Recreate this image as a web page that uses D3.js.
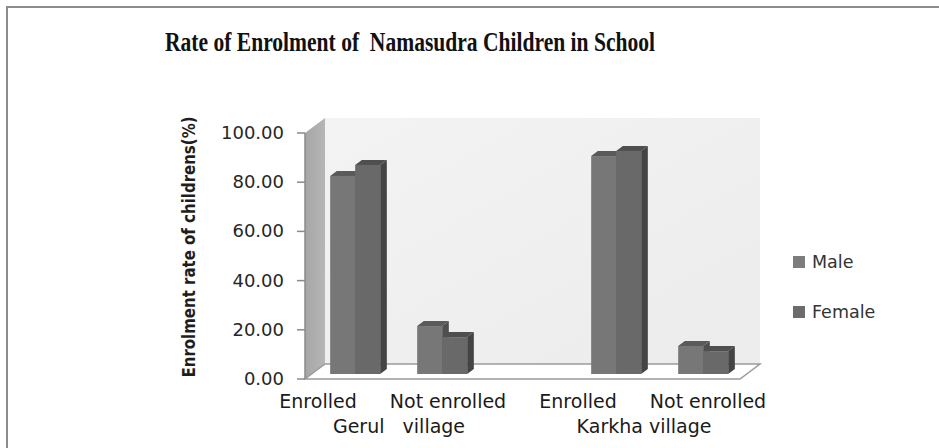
<!DOCTYPE html>
<html>
<head>
<meta charset="utf-8">
<script src="https://cdn.jsdelivr.net/npm/d3@7"></script>
<style>
  html, body { margin: 0; padding: 0; background: #fff; }
  svg { display: block; }
</style>
</head>
<body>
<svg id="chart" width="939" height="448"></svg>
<script>
// ---- data ----
const chartTitle = "Rate of Enrolment of  Namasudra Children in School";
const yAxisTitle = "Enrolment rate of childrens(%)";
const groups = ["Gerul   village", "Karkha village"];
const categories = ["Enrolled", "Not enrolled", "Enrolled", "Not enrolled"];
const categoryGroup = [0, 0, 1, 1];
const categorySlot = [0, 1, 3, 4];          // slot 2 is an empty gap between villages
const series = ["Male", "Female"];
const maleValues = [80.5, 19.5, 88.6, 11.4];
const femaleValues = [85.0, 15.0, 90.7, 9.3];
const yTicks = [0, 20, 40, 60, 80, 100];

// ---- layout ----
const svg = d3.select("#chart");
const plot = { left: 305, right: 740, top: 133, bottom: 379 };
const depth = { dx: 20, dy: -15 };
const barDepth = { start: 1 / 3, end: 2 / 3 };

const y = d3.scaleLinear().domain([0, 100]).range([plot.bottom, plot.top]);
const xSlot = d3.scaleBand().domain(d3.range(5)).range([plot.left, plot.right]).padding(0);
const xInner = d3.scaleBand().domain(series).range([0, xSlot.bandwidth()]).paddingInner(0).paddingOuter(0.74);
const labelX = d3.scalePoint().domain(d3.range(4)).range([318, 708]);

const colors = {
  Male:   { front: "#777777", top: "#5a5a5a", side: "#4e4e4e", legend: "#7d7d7d" },
  Female: { front: "#696969", top: "#4f4f4f", side: "#444444", legend: "#6c6c6c" }
};

// outer frame (right and bottom edges fall outside the picture)
svg.append("rect").attr("x", 7).attr("y", 7).attr("width", 960).attr("height", 470)
  .attr("fill", "none").attr("stroke", "#8c8c8c").attr("stroke-width", 2);

// title
svg.append("text")
  .attr("x", 410).attr("y", 51)
  .attr("text-anchor", "middle")
  .attr("font-family", "Liberation Serif, Times New Roman, serif")
  .attr("font-weight", "bold")
  .attr("font-size", 28)
  .attr("textLength", 490).attr("lengthAdjust", "spacingAndGlyphs")
  .attr("fill", "#111")
  .style("white-space", "pre")
  .text(chartTitle);

const defs = svg.append("defs");
const wallGrad = defs.append("linearGradient").attr("id", "sideWall").attr("x1", 0).attr("x2", 1).attr("y1", 0).attr("y2", 0);
wallGrad.append("stop").attr("offset", 0).attr("stop-color", "#a6a6a6");
wallGrad.append("stop").attr("offset", 1).attr("stop-color", "#b6b6b6");
const backGrad = defs.append("linearGradient").attr("id", "backWall").attr("x1", 0).attr("x2", 1).attr("y1", 0).attr("y2", 1);
backGrad.append("stop").attr("offset", 0).attr("stop-color", "#f3f3f3");
backGrad.append("stop").attr("offset", 1).attr("stop-color", "#ececec");

const y0 = y(0), yTop = y(100);
// back wall
svg.append("polygon")
  .attr("points", [[plot.left + depth.dx, yTop + depth.dy], [plot.right + depth.dx, yTop + depth.dy],
                   [plot.right + depth.dx, y0 + depth.dy], [plot.left + depth.dx, y0 + depth.dy]].join(" "))
  .attr("fill", "url(#backWall)");
// side wall
svg.append("polygon")
  .attr("points", [[plot.left, yTop], [plot.left + depth.dx, yTop + depth.dy],
                   [plot.left + depth.dx, y0 + depth.dy], [plot.left, y0]].join(" "))
  .attr("fill", "url(#sideWall)");
// floor
svg.append("polygon")
  .attr("points", [[plot.left, y0], [plot.right, y0], [plot.right + depth.dx, y0 + depth.dy],
                   [plot.left + depth.dx, y0 + depth.dy]].join(" "))
  .attr("fill", "#ffffff").attr("stroke", "#9a9a9a").attr("stroke-width", 1.5);

// y axis
svg.append("line").attr("x1", plot.left).attr("x2", plot.left).attr("y1", yTop).attr("y2", y0)
  .attr("stroke", "#8a8a8a").attr("stroke-width", 1.5);
const ticks = svg.append("g");
yTicks.forEach(t => {
  ticks.append("line").attr("x1", plot.left - 8).attr("x2", plot.left)
    .attr("y1", y(t)).attr("y2", y(t)).attr("stroke", "#8a8a8a").attr("stroke-width", 1.5);
  ticks.append("text").attr("x", 284).attr("y", y(t)).attr("dy", "0.33em")
    .attr("text-anchor", "end")
    .attr("font-family", "DejaVu Sans, sans-serif").attr("font-size", 18)
    .attr("fill", "#262626").text(d3.format(".2f")(t));
});

// y axis title
svg.append("text")
  .attr("transform", "translate(195,247) rotate(-90)")
  .attr("text-anchor", "middle")
  .attr("font-family", "DejaVu Sans, sans-serif").attr("font-weight", "bold")
  .attr("font-size", 18)
  .attr("textLength", 261).attr("lengthAdjust", "spacingAndGlyphs")
  .attr("fill", "#1e1e1e")
  .text(yAxisTitle);

// bars
const bars = svg.append("g");
const valuesBySeries = { Male: maleValues, Female: femaleValues };
categories.forEach((c, i) => {
  series.forEach(s => {
    const v = valuesBySeries[s][i];
    const w = xInner.bandwidth();
    const ox = depth.dx * barDepth.start, oy = depth.dy * barDepth.start;
    const ddx = depth.dx * (barDepth.end - barDepth.start), ddy = depth.dy * (barDepth.end - barDepth.start);
    const x0 = xSlot(categorySlot[i]) + xInner(s) + ox;
    const yt = y(v) + oy, yb = y(0) + oy;
    const col = colors[s];
    bars.append("polygon")
      .attr("points", [[x0 + w, yt], [x0 + w + ddx, yt + ddy], [x0 + w + ddx, yb + ddy], [x0 + w, yb]].join(" "))
      .attr("fill", col.side);
    bars.append("polygon")
      .attr("points", [[x0, yt], [x0 + w, yt], [x0 + w + ddx, yt + ddy], [x0 + ddx, yt + ddy]].join(" "))
      .attr("fill", col.top);
    bars.append("rect").attr("x", x0).attr("y", yt).attr("width", w).attr("height", yb - yt)
      .attr("fill", col.front);
  });
});

// category labels
categories.forEach((c, i) => {
  svg.append("text").attr("x", labelX(i)).attr("y", 408)
    .attr("text-anchor", "middle")
    .attr("font-family", "DejaVu Sans, sans-serif").attr("font-size", 19)
    .attr("fill", "#1a1a1a").text(c);
});
groups.forEach((g, gi) => {
  const idx = categoryGroup.map((d, i) => d === gi ? i : -1).filter(i => i >= 0);
  const cx = d3.mean(idx, i => labelX(i)) + (gi === 0 ? 16 : 1);
  svg.append("text").attr("x", cx).attr("y", 433)
    .attr("text-anchor", "middle")
    .attr("font-family", "DejaVu Sans, sans-serif").attr("font-size", 19)
    .attr("fill", "#1a1a1a").style("white-space", "pre").text(g);
});

// legend
const legend = svg.append("g");
series.forEach((s, i) => {
  const ly = 262 + i * 50;
  legend.append("rect").attr("x", 793).attr("y", ly - 6).attr("width", 12).attr("height", 12)
    .attr("fill", colors[s].legend);
  legend.append("text").attr("x", 812).attr("y", ly).attr("dy", "0.36em")
    .attr("font-family", "DejaVu Sans, sans-serif").attr("font-size", 17.5)
    .attr("fill", "#333").text(s);
});
</script>
</body>
</html>
